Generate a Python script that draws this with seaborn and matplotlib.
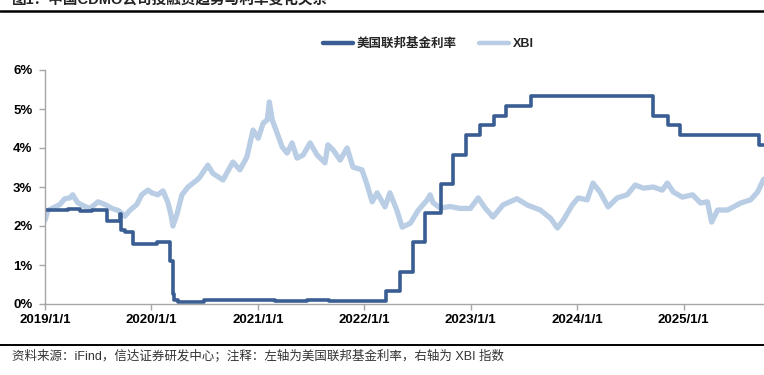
import pandas as pd
import matplotlib.pyplot as plt
import matplotlib.dates as mdates
import seaborn as sns
from matplotlib.lines import Line2D
from matplotlib.ticker import FuncFormatter, MultipleLocator

# Effective Fed funds rate (%), change dates
FED_DATES = [
    "2019-01-01", "2019-03-20", "2019-05-02", "2019-06-10", "2019-07-05",
    "2019-08-01", "2019-09-17", "2019-09-19", "2019-10-01", "2019-10-31",
    "2020-01-21", "2020-03-04", "2020-03-16", "2020-03-18", "2020-04-01",
    "2020-05-20", "2020-07-01", "2021-01-05", "2021-03-01", "2021-06-17",
    "2021-09-01", "2022-03-17", "2022-05-05", "2022-06-16", "2022-07-28",
    "2022-09-22", "2022-11-03", "2022-12-15", "2023-02-02", "2023-03-23",
    "2023-05-04", "2023-07-27", "2024-09-19", "2024-11-08", "2024-12-19",
    "2025-09-18", "2025-10-03",
]
FED_RATE = [
    2.40, 2.43, 2.38, 2.40, 2.40,
    2.13, 2.30, 1.90, 1.85, 1.55,
    1.59, 1.10, 0.25, 0.10, 0.05,
    0.06, 0.09, 0.09, 0.07, 0.10,
    0.08, 0.33, 0.83, 1.58, 2.33,
    3.08, 3.83, 4.33, 4.58, 4.83,
    5.08, 5.33, 4.83, 4.58, 4.33,
    4.08, 4.08,
]

# XBI index (right axis, hidden; 0-180)
XBI_DATES = [
    "2019-01-01", "2019-01-11", "2019-01-25", "2019-02-21", "2019-03-10",
    "2019-03-27", "2019-04-06", "2019-04-23", "2019-05-18", "2019-06-04",
    "2019-07-02", "2019-07-26", "2019-08-19", "2019-09-09", "2019-09-22",
    "2019-10-02", "2019-10-19", "2019-11-12", "2019-11-29", "2019-12-20",
    "2020-01-03", "2020-01-23", "2020-02-10", "2020-02-27", "2020-03-08",
    "2020-03-15", "2020-03-29", "2020-04-15", "2020-05-06", "2020-05-23",
    "2020-06-09", "2020-06-16", "2020-07-13", "2020-07-30", "2020-09-03",
    "2020-10-07", "2020-10-31", "2020-11-24", "2020-12-15", "2021-01-02",
    "2021-01-19", "2021-02-02", "2021-02-09", "2021-02-19", "2021-03-08",
    "2021-03-25", "2021-04-11", "2021-04-28", "2021-05-15", "2021-06-05",
    "2021-06-29", "2021-07-23", "2021-08-19", "2021-08-29", "2021-09-16",
    "2021-10-10", "2021-11-03", "2021-11-23", "2021-12-24", "2022-01-11",
    "2022-01-28", "2022-02-14", "2022-03-13", "2022-03-30", "2022-04-23",
    "2022-05-11", "2022-06-08", "2022-07-05", "2022-08-05", "2022-08-15",
    "2022-08-25", "2022-09-18", "2022-10-23", "2022-11-26", "2022-12-31",
    "2023-01-27", "2023-02-20", "2023-03-19", "2023-04-22", "2023-06-09",
    "2023-07-14", "2023-08-28", "2023-10-02", "2023-10-26", "2023-11-15",
    "2023-12-16", "2024-01-05", "2024-02-05", "2024-02-25", "2024-03-20",
    "2024-04-17", "2024-05-18", "2024-06-21", "2024-07-19", "2024-08-16",
    "2024-09-19", "2024-10-20", "2024-11-06", "2024-11-27", "2024-12-28",
    "2025-02-01", "2025-02-28", "2025-03-24", "2025-04-07", "2025-04-28",
    "2025-06-01", "2025-07-16", "2025-08-19", "2025-09-12", "2025-10-03",
]
XBI_VALUE = [
    64.5, 72.0, 73.5, 76.5, 81.0,
    81.6, 84.0, 78.0, 75.0, 73.5,
    78.6, 76.5, 73.5, 72.0, 69.6,
    67.5, 72.0, 76.5, 84.0, 87.6,
    85.5, 84.0, 87.0, 78.0, 69.0,
    60.0, 69.0, 84.0, 90.0, 93.0,
    96.0, 97.8, 106.8, 100.5, 95.4,
    109.2, 103.2, 113.1, 133.8, 127.5,
    139.2, 141.6, 155.4, 141.6, 131.4,
    120.9, 116.1, 123.9, 112.2, 114.6,
    123.9, 114.6, 108.6, 122.4, 118.5,
    110.7, 120.0, 105.3, 103.2, 91.5,
    78.6, 85.5, 74.7, 85.5, 72.0,
    59.1, 62.1, 72.0, 80.1, 84.0,
    78.0, 73.8, 75.0, 73.5, 73.5,
    81.6, 73.8, 66.9, 76.2, 81.0,
    76.2, 72.3, 66.0, 58.5, 64.5,
    76.2, 81.6, 80.1, 93.0, 86.1,
    74.7, 81.6, 84.0, 91.5, 89.1,
    90.0, 87.6, 93.0, 86.1, 82.2,
    84.0, 77.7, 78.6, 63.0, 72.3,
    72.3, 77.7, 80.1, 86.1, 96.0,
]

FED_LABEL = "美国联邦基金利率"
XBI_LABEL = "XBI"
TITLE = "图1：中国CDMO公司投融资趋势与利率变化关系"
SOURCE = "资料来源：iFind，信达证券研发中心；注释：左轴为美国联邦基金利率，右轴为 XBI 指数"

FED_COLOR = "#3a5e93"
XBI_COLOR = "#b9cde5"
AXIS_COLOR = "#a6a6a6"

sns.set_theme(style="white")
plt.rcParams["font.family"] = ["Liberation Sans", "Noto Sans CJK SC", "DejaVu Sans"]

fed = pd.DataFrame({"date": pd.to_datetime(FED_DATES), "rate": FED_RATE})
xbi = pd.DataFrame({"date": pd.to_datetime(XBI_DATES), "value": XBI_VALUE})

fig = plt.figure(figsize=(7.64, 3.75), dpi=100)
ax = fig.add_axes([45 / 764, 1 - 304 / 375, 1 - 45 / 764, (304 - 70) / 375])
ax2 = ax.twinx()

sns.lineplot(data=xbi, x="date", y="value", ax=ax2, color=XBI_COLOR,
             linewidth=3.8, estimator=None, label=XBI_LABEL, legend=False)
sns.lineplot(data=fed, x="date", y="rate", ax=ax, color=FED_COLOR,
             linewidth=2.6, estimator=None, drawstyle="steps-post",
             label=FED_LABEL, legend=False)

# fed line drawn above xbi
ax.set_zorder(ax2.get_zorder() + 1)
ax.patch.set_visible(False)

ax.set_xlim(pd.Timestamp("2019-01-01"), pd.Timestamp("2025-10-04"))
ax.set_ylim(0, 6)
ax2.set_ylim(0, 180)

ax.yaxis.set_major_locator(MultipleLocator(1))
ax.yaxis.set_major_formatter(FuncFormatter(lambda v, _: f"{int(round(v))}%"))
ax.xaxis.set_major_locator(mdates.YearLocator())
ax.xaxis.set_major_formatter(mdates.DateFormatter("%Y/1/1"))

ax.set_xlabel("")
ax.set_ylabel("")
ax2.set_ylabel("")
ax2.set_yticks([])
for side in ("top", "right", "left", "bottom"):
    ax2.spines[side].set_visible(False)
for side in ("top", "right"):
    ax.spines[side].set_visible(False)
for side in ("left", "bottom"):
    ax.spines[side].set_color(AXIS_COLOR)
    ax.spines[side].set_linewidth(1.0)

ax.tick_params(axis="both", which="major", direction="out", length=4,
               width=1.0, color=AXIS_COLOR, labelsize=9.5, labelcolor="black")
ax.tick_params(axis="y", pad=5)
ax.tick_params(axis="x", pad=3)
ax.tick_params(left=True, bottom=True)
for lbl in ax.get_xticklabels() + ax.get_yticklabels():
    lbl.set_fontweight("bold")

handles = [Line2D([], [], color=FED_COLOR, linewidth=3.2),
           Line2D([], [], color=XBI_COLOR, linewidth=3.2)]
fig.legend(handles, [FED_LABEL, XBI_LABEL], loc="center",
           bbox_to_anchor=(0.561, 1 - 44 / 375), ncol=2, frameon=False,
           handlelength=2.4, handletextpad=0.3, columnspacing=1.8,
           prop={"weight": "bold", "size": 9})

# header / footer rules
fig.add_artist(Line2D([0, 1], [1 - 11 / 375] * 2, transform=fig.transFigure,
                      color="black", linewidth=1.8))
fig.add_artist(Line2D([0, 1], [1 - 345 / 375] * 2, transform=fig.transFigure,
                      color="black", linewidth=1.4))

fig.text(12 / 764, 1 - 5 / 375, TITLE, fontsize=10.5, fontweight="bold",
         color="#222222", va="baseline", ha="left")
fig.text(12 / 764, 1 - 356 / 375, SOURCE, fontsize=9, color="#333333",
         va="center", ha="left")

fig.savefig("out.png", dpi=100)
